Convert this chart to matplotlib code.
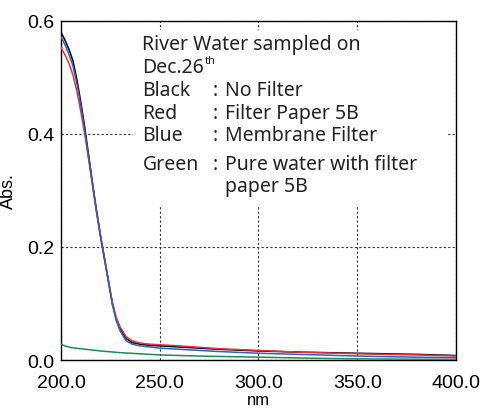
import numpy as np
import matplotlib
matplotlib.use('Agg')
import matplotlib.pyplot as plt
from matplotlib.patches import Rectangle

plt.rcParams['font.family'] = ['Liberation Sans', 'DejaVu Sans']

# wavelength (nm) and absorbance
wl = [200, 202, 204, 206, 208, 210, 212, 214, 216, 218, 220, 222, 224, 226,
      228, 230, 233, 236, 240, 245, 250, 260, 280, 300, 320, 350, 380, 400]
black = [0.580, 0.566, 0.550, 0.530, 0.497, 0.457, 0.412, 0.362, 0.312, 0.264,
         0.220, 0.180, 0.140, 0.100, 0.072, 0.055, 0.038, 0.031, 0.028, 0.026,
         0.025, 0.023, 0.019, 0.016, 0.014, 0.012, 0.010, 0.008]
red = [0.553, 0.540, 0.525, 0.505, 0.476, 0.440, 0.400, 0.355, 0.308, 0.262,
       0.219, 0.180, 0.141, 0.102, 0.075, 0.058, 0.041, 0.034, 0.030, 0.028,
       0.027, 0.025, 0.020, 0.017, 0.014, 0.011, 0.009, 0.007]
blue = [0.572, 0.558, 0.541, 0.521, 0.490, 0.451, 0.406, 0.358, 0.309, 0.262,
        0.218, 0.178, 0.138, 0.098, 0.069, 0.051, 0.034, 0.028, 0.025, 0.023,
        0.021, 0.019, 0.015, 0.012, 0.010, 0.007, 0.005, 0.004]
wl_green = [200, 202, 205, 210, 220, 230, 240, 250, 270, 300, 330, 350, 400]
green = [0.028, 0.025, 0.022, 0.020, 0.016, 0.013, 0.011, 0.009, 0.007, 0.005,
         0.003, 0.002, 0.001]

labels = ['Black', 'Red', 'Blue', 'Green']
descs = ['No Filter', 'Filter Paper 5B', 'Membrane Filter', 'Pure water with filter\npaper 5B']

fig = plt.figure(figsize=(4.82, 4.14), dpi=100)
ax = fig.add_axes([0.1266, 0.128, 0.8194, 0.819])

ax.plot(wl, black, color='black', lw=1.1, zorder=3)
ax.plot(wl, blue, color='#2f5fbf', lw=1.1, zorder=4)
ax.plot(wl, red, color='#e8323c', lw=1.1, zorder=3.5)
ax.plot(wl_green, green, color='#1e8c50', lw=1.1, zorder=3)

ax.set_xlim(200, 400)
ax.set_ylim(0, 0.6)
ax.set_xticks([200, 250, 300, 350, 400])
ax.set_xticklabels(['200.0', '250.0', '300.0', '350.0', '400.0'])
ax.set_yticks([0, 0.2, 0.4, 0.6])
ax.set_yticklabels(['0.0', '0.2', '0.4', '0.6'])
ax.tick_params(length=0, labelsize=14)
ax.tick_params(axis='x', pad=10)
ax.tick_params(axis='y', pad=5)
ax.grid(True, color='#333333', linestyle=(0, (2, 2)), lw=0.8)
ax.set_axisbelow(True)
for s in ax.spines.values():
    s.set_linewidth(1.0)
ax.set_xlabel('nm', fontsize=12, labelpad=1)
ax.set_ylabel('Abs.', fontsize=13, labelpad=7)

# white note box covering the grid
ax.add_patch(Rectangle((0.182, 0.454), 0.795, 0.52, transform=ax.transAxes,
                       facecolor='white', edgecolor='none', zorder=2))

tf = dict(family=['Noto Sans', 'DejaVu Sans'], fontsize=14, color='#222222',
          transform=ax.transAxes, zorder=5, va='baseline')
x0 = 0.206
ax.text(x0, 0.917, 'River Water sampled on', **tf)
t = ax.text(x0, 0.849, 'Dec.26', **tf)
ax.annotate('th', xy=(1, 1), xycoords=t, xytext=(0.5, -6.5), textcoords='offset points',
            va='bottom', ha='left', fontsize=8, color='#222222',
            family=['Noto Sans', 'DejaVu Sans'], zorder=5)
ys = [0.782, 0.715, 0.649, 0.563]
for lab, d, y in zip(labels, descs, ys):
    ax.text(x0, y, lab, **tf)
    ax.text(0.384, y, ':', **tf)
    ax.text(0.416, y, d.split('\n')[0], **tf)
    if '\n' in d:
        ax.text(0.416, y - 0.066, d.split('\n')[1], **tf)

fig.savefig('out.png', dpi=100)
